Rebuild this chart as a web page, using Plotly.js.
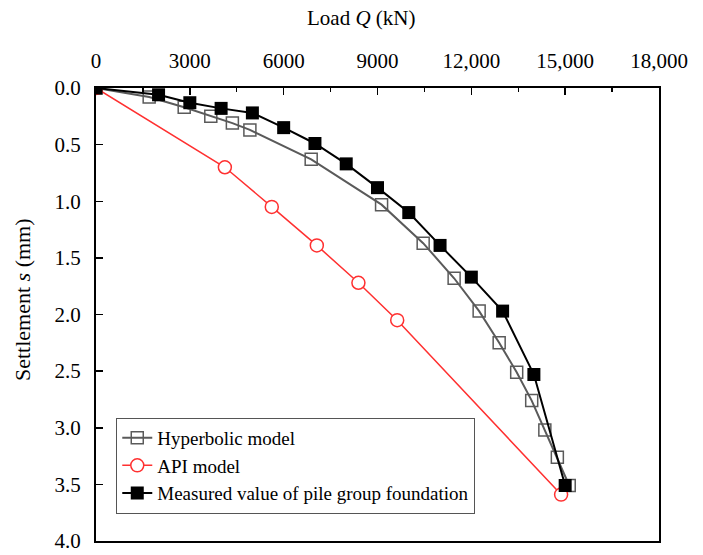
<!DOCTYPE html>
<html>
<head>
<meta charset="utf-8">
<script src="https://cdn.plot.ly/plotly-3.0.1.min.js"></script>
<style>
  html, body { margin: 0; padding: 0; background: #fff; }
  #chart { width: 703px; height: 555px; }
</style>
</head>
<body>
<div id="chart"></div>
<script>
// Load Q (kN) and settlement s (mm)
const hyperLoad = [0, 1700, 2820, 3670, 4360, 4920, 6880, 9130, 10460, 11450, 12250, 12890, 13450, 13930, 14350, 14750, 15130];
const hyperSettle = [0, 0.08, 0.17, 0.25, 0.31, 0.37, 0.63, 1.03, 1.37, 1.68, 1.97, 2.25, 2.51, 2.76, 3.02, 3.26, 3.51];

const apiLoad = [0, 4120, 5620, 7060, 8390, 9630, 14870];
const apiSettle = [0, 0.70, 1.05, 1.39, 1.72, 2.05, 3.59];

const measLoad = [0, 2000, 3000, 4000, 5000, 6000, 7000, 8000, 9000, 10000, 11000, 12000, 13000, 14000, 15000];
const measSettle = [0, 0.06, 0.13, 0.18, 0.22, 0.35, 0.49, 0.67, 0.88, 1.10, 1.39, 1.67, 1.97, 2.53, 3.51];

const xTickVals = [0, 3000, 6000, 9000, 12000, 15000, 18000];
const xTickText = ['0', '3000', '6000', '9000', '12,000', '15,000', '18,000'];
const yTickVals = [0, 0.5, 1, 1.5, 2, 2.5, 3, 3.5, 4];
const yTickText = ['0.0', '0.5', '1.0', '1.5', '2.0', '2.5', '3.0', '3.5', '4.0'];

const serif = 'Liberation Serif, DejaVu Serif, serif';

const traces = [
  {
    x: hyperLoad, y: hyperSettle,
    name: 'Hyperbolic model',
    type: 'scatter', mode: 'lines+markers',
    line: { color: '#5a5a5a', width: 2 },
    marker: { symbol: 'square-open', size: 12, color: '#5a5a5a', line: { width: 1.5 } }
  },
  {
    x: apiLoad, y: apiSettle,
    name: 'API model',
    type: 'scatter', mode: 'lines+markers',
    line: { color: '#ff3030', width: 1.5 },
    marker: { symbol: 'circle', size: 13, color: '#ffffff', line: { color: '#ff3030', width: 1.5 } }
  },
  {
    x: measLoad, y: measSettle,
    name: 'Measured value of pile group foundation',
    type: 'scatter', mode: 'lines+markers',
    line: { color: '#000000', width: 2 },
    marker: { symbol: 'square', size: 13, color: '#000000' }
  }
];

const layout = {
  width: 703, height: 555,
  margin: { l: 96, r: 44, t: 88, b: 14 },
  paper_bgcolor: '#ffffff',
  plot_bgcolor: '#ffffff',
  font: { family: serif, size: 21, color: '#000' },
  showlegend: true,
  legend: {
    x: 0.036, y: 0.06, xanchor: 'left', yanchor: 'bottom',
    bgcolor: '#ffffff', bordercolor: '#555', borderwidth: 1,
    font: { family: serif, size: 19, color: '#000' },
    tracegroupgap: 0
  },
  xaxis: {
    side: 'top',
    range: [0, 18000],
    tickvals: xTickVals, ticktext: xTickText,
    ticks: 'inside', ticklen: 7, tickwidth: 1.5, tickcolor: '#000',
    ticklabelstandoff: 10,
    minor: { dtick: 1500, ticks: 'inside', ticklen: 4, tickcolor: '#000', tickwidth: 1.2 },
    showline: true, linecolor: '#000', linewidth: 2, mirror: true,
    showgrid: false, zeroline: false,
    tickfont: { family: serif, size: 21 }
  },
  yaxis: {
    range: [4, 0],
    tickvals: yTickVals, ticktext: yTickText,
    ticks: 'inside', ticklen: 7, tickwidth: 1.5, tickcolor: '#000',
    ticklabelstandoff: 9,
    showline: true, linecolor: '#000', linewidth: 2, mirror: true,
    showgrid: false, zeroline: false,
    tickfont: { family: serif, size: 21 }
  },
  annotations: [
    {
      text: 'Load <i>Q</i> (kN)', xref: 'paper', yref: 'paper',
      x: (361 - 96) / 563, y: 1, yshift: 70, xanchor: 'center', yanchor: 'middle',
      showarrow: false, font: { family: serif, size: 21 }
    },
    {
      text: 'Settlement <i>s</i> (mm)', xref: 'paper', yref: 'paper',
      x: 0, xshift: -74, y: (541 - 300) / 453, xanchor: 'center', yanchor: 'middle',
      textangle: -90, showarrow: false, font: { family: serif, size: 22 }
    }
  ]
};

Plotly.newPlot('chart', traces, layout, { displayModeBar: false, staticPlot: true });
</script>
</body>
</html>
